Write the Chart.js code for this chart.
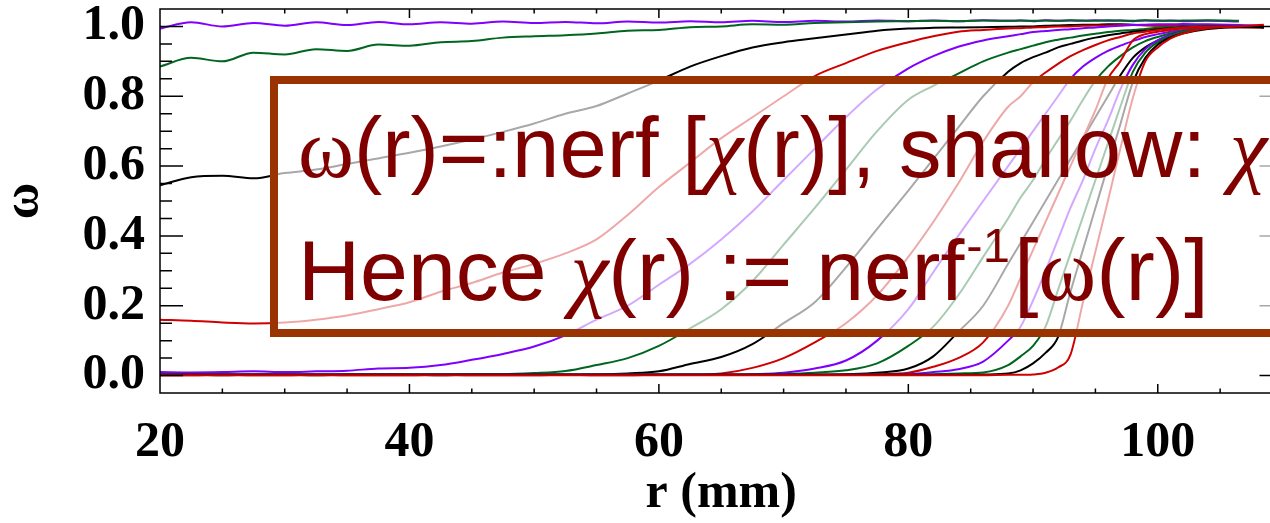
<!DOCTYPE html>
<html>
<head>
<meta charset="utf-8">
<script src="https://cdn.jsdelivr.net/npm/chart.js@4.4.1/dist/chart.umd.min.js"></script>
<style>
  html, body { margin: 0; padding: 0; background: #fff; overflow: hidden; }
  #wrap { width: 1290px; height: 523px; }
</style>
</head>
<body>
<div id="wrap"><canvas id="omegaChart" width="1290" height="523"></canvas></div>
<script>
// radius grid (mm), shared by all curves
const r = [20, 22.5, 25, 27.5, 30, 32.5, 35, 37.5, 40, 42.5, 45, 47.5, 50, 52.5, 55, 57.5, 60, 62.5, 65, 67.5, 70, 72.5, 75, 77.5, 80,
  82, 84, 86, 88, 89, 90, 91, 92, 93, 94, 95, 96, 97, 98, 99, 100, 101, 102, 104, 106.5, 108.5];

// omega profiles, one per depth
const w1 = [0.994, 1.012, 1.000, 1.010, 1.002, 1.012, 1.004, 1.013, 1.006, 1.012, 1.008, 1.014, 1.010, 1.013, 1.009, 1.014, 1.011, 1.015, 1.012, 1.016, 1.013, 1.016, 1.014, 1.017, 1.015,
  1.017, 1.015, 1.018, 1.016, 1.017, 1.015, 1.018, 1.016, 1.017, 1.016, 1.018, 1.016, 1.017, 1.015, 1.017, 1.016, 1.017, 1.015, 1.016, 1.014, null];
const w2 = [0.885, 0.910, 0.900, 0.925, 0.920, 0.935, 0.930, 0.948, 0.945, 0.955, 0.958, 0.968, 0.972, 0.975, 0.980, 0.988, 0.990, 0.998, 1.000, 1.006, 1.005, 1.010, 1.012, 1.014, 1.015,
  1.016, 1.015, 1.017, 1.016, 1.017, 1.016, 1.017, 1.016, 1.018, 1.017, 1.016, 1.018, 1.017, 1.016, 1.018, 1.017, 1.016, 1.017, 1.018, 1.016, null];
const w3 = [0.545, 0.568, 0.572, 0.565, 0.580, 0.590, 0.606, 0.622, 0.638, 0.656, 0.676, 0.698, 0.722, 0.750, 0.772, 0.808, 0.845, 0.885, 0.915, 0.940, 0.955, 0.966, 0.977, 0.988, 0.994,
  0.996, 0.997, 0.998, 0.999, 1.000, 1.000, 1.002, 1.003, 1.004, 1.005, 1.005, 1.006, 1.006, 1.005, 1.004, 1.003, 1.002, 1.001, 1.000, 1.000, 0.998];
const w4 = [0.160, 0.157, 0.152, 0.149, 0.152, 0.160, 0.172, 0.190, 0.210, 0.240, 0.265, 0.295, 0.320, 0.350, 0.390, 0.460, 0.540, 0.610, 0.680, 0.740, 0.800, 0.858, 0.895, 0.930, 0.955,
  0.972, 0.985, 0.990, 0.994, 0.995, 0.997, 0.998, 1.000, 1.000, 1.002, 1.003, 1.003, 1.004, 1.004, 1.003, 1.002, 1.002, 1.000, 1.000, 0.998, 0.996];
const w5 = [0.010, 0.009, 0.010, 0.012, 0.010, 0.012, 0.014, 0.020, 0.022, 0.030, 0.045, 0.062, 0.083, 0.115, 0.160, 0.200, 0.260, 0.320, 0.390, 0.470, 0.560, 0.650, 0.740, 0.820, 0.880,
  0.915, 0.942, 0.960, 0.972, 0.978, 0.984, 0.987, 0.990, 0.992, 0.995, 0.997, 1.000, 1.002, 1.004, 1.005, 1.006, 1.006, 1.007, 1.006, 1.004, 1.002];
const w6 = [0.002, 0.003, 0.003, 0.002, 0.003, 0.002, 0.003, 0.003, 0.003, 0.003, 0.004, 0.004, 0.007, 0.013, 0.030, 0.050, 0.085, 0.135, 0.190, 0.270, 0.375, 0.480, 0.590, 0.700, 0.790,
  0.830, 0.865, 0.900, 0.925, 0.935, 0.945, 0.955, 0.962, 0.968, 0.974, 0.979, 0.984, 0.988, 0.990, 0.993, 0.996, 0.998, 1.000, 1.002, 1.000, 0.998];
const w7 = [0.002, 0.002, 0.001, 0.002, 0.002, 0.001, 0.002, 0.002, 0.002, 0.001, 0.002, 0.002, 0.002, 0.002, 0.003, 0.006, 0.012, 0.033, 0.053, 0.090, 0.150, 0.210, 0.310, 0.420, 0.530,
  0.620, 0.710, 0.800, 0.870, 0.895, 0.912, 0.925, 0.940, 0.950, 0.960, 0.968, 0.975, 0.980, 0.985, 0.988, 0.992, 0.995, 0.997, 1.000, 1.000, 0.998];
const w8 = [0.001, 0.001, 0.002, 0.001, 0.001, 0.002, 0.001, 0.001, 0.001, 0.002, 0.001, 0.001, 0.001, 0.002, 0.001, 0.001, 0.002, 0.002, 0.006, 0.022, 0.050, 0.095, 0.150, 0.230, 0.340,
  0.440, 0.550, 0.670, 0.770, 0.800, 0.840, 0.868, 0.893, 0.915, 0.932, 0.947, 0.960, 0.970, 0.980, 0.985, 0.990, 0.994, 0.997, 1.000, 1.000, 0.998];
const w9 = [0.002, 0.002, 0.002, 0.002, 0.002, 0.002, 0.002, 0.002, 0.002, 0.002, 0.002, 0.002, 0.002, 0.002, 0.002, 0.002, 0.002, 0.002, 0.002, 0.004, 0.008, 0.020, 0.043, 0.100, 0.190,
  0.296, 0.400, 0.500, 0.600, 0.650, 0.700, 0.750, 0.800, 0.850, 0.885, 0.910, 0.930, 0.945, 0.958, 0.970, 0.978, 0.985, 0.990, 0.997, 1.000, 0.998];
const w10 = [0.002, 0.002, 0.002, 0.002, 0.002, 0.002, 0.002, 0.002, 0.002, 0.002, 0.002, 0.002, 0.002, 0.002, 0.002, 0.002, 0.002, 0.002, 0.002, 0.002, 0.004, 0.008, 0.015, 0.035, 0.085,
  0.140, 0.230, 0.340, 0.450, 0.510, 0.560, 0.620, 0.675, 0.730, 0.790, 0.845, 0.885, 0.915, 0.940, 0.958, 0.970, 0.980, 0.987, 0.995, 1.000, 0.998];
const w11 = [0.002, 0.002, 0.002, 0.002, 0.002, 0.002, 0.002, 0.002, 0.002, 0.002, 0.002, 0.002, 0.002, 0.002, 0.002, 0.002, 0.002, 0.002, 0.002, 0.002, 0.002, 0.002, 0.004, 0.008, 0.020,
  0.055, 0.125, 0.200, 0.320, 0.380, 0.440, 0.500, 0.560, 0.620, 0.680, 0.740, 0.800, 0.860, 0.910, 0.940, 0.960, 0.975, 0.985, 0.995, 1.000, 0.998];
const w12 = [0.002, 0.002, 0.002, 0.002, 0.002, 0.002, 0.002, 0.002, 0.002, 0.002, 0.002, 0.002, 0.002, 0.002, 0.002, 0.002, 0.002, 0.002, 0.002, 0.002, 0.002, 0.002, 0.002, 0.004, 0.008,
  0.025, 0.050, 0.095, 0.200, 0.280, 0.360, 0.440, 0.520, 0.600, 0.680, 0.760, 0.850, 0.900, 0.960, 0.978, 0.985, 0.990, 0.994, 0.998, 1.000, 1.002];
const w13 = [0.002, 0.002, 0.002, 0.002, 0.002, 0.002, 0.002, 0.002, 0.002, 0.002, 0.002, 0.002, 0.002, 0.002, 0.002, 0.002, 0.002, 0.002, 0.002, 0.002, 0.002, 0.002, 0.002, 0.002, 0.004,
  0.010, 0.018, 0.040, 0.100, 0.140, 0.215, 0.300, 0.390, 0.480, 0.560, 0.650, 0.730, 0.820, 0.890, 0.935, 0.960, 0.975, 0.985, 0.995, 1.000, 0.998];
const w14 = [0.002, 0.002, 0.002, 0.002, 0.002, 0.002, 0.002, 0.002, 0.002, 0.002, 0.002, 0.002, 0.002, 0.002, 0.002, 0.002, 0.002, 0.002, 0.002, 0.002, 0.002, 0.002, 0.002, 0.002, 0.002,
  0.004, 0.006, 0.009, 0.030, 0.055, 0.085, 0.140, 0.245, 0.350, 0.455, 0.560, 0.665, 0.770, 0.870, 0.925, 0.955, 0.972, 0.984, 0.995, 1.000, 0.998];
const w15 = [0.002, 0.002, 0.002, 0.002, 0.002, 0.002, 0.002, 0.002, 0.002, 0.002, 0.002, 0.002, 0.002, 0.002, 0.002, 0.002, 0.002, 0.002, 0.002, 0.002, 0.002, 0.002, 0.002, 0.002, 0.002,
  0.002, 0.002, 0.003, 0.006, 0.015, 0.035, 0.065, 0.110, 0.240, 0.360, 0.480, 0.600, 0.720, 0.840, 0.910, 0.948, 0.968, 0.980, 0.993, 0.998, 0.998];
const w16 = [0.001, 0.001, 0.001, 0.001, 0.001, 0.001, 0.001, 0.001, 0.001, 0.001, 0.001, 0.001, 0.001, 0.001, 0.001, 0.001, 0.001, 0.001, 0.001, 0.001, 0.001, 0.001, 0.001, 0.001, 0.001,
  0.001, 0.001, 0.001, 0.002, 0.002, 0.003, 0.008, 0.023, 0.060, 0.210, 0.355, 0.500, 0.650, 0.795, 0.900, 0.940, 0.965, 0.980, 0.995, 1.000, 1.005];

const profiles = [w1, w2, w3, w4, w5, w6, w7, w8, w9, w10, w11, w12, w13, w14, w15, w16];
const palette = ['#7f00ff', '#00661f', '#000000', '#d00000'];

const xTicks = [20, 40, 60, 80, 100];
const yTicks = [0, 0.2, 0.4, 0.6, 0.8, 1.0];

const boxLine1 = 'ω(r)=:nerf [χ(r)], shallow: χ(r) ≈ ω(r)';
const boxLine2a = 'Hence χ(r) := nerf';
const boxLine2sup = '-1';
const boxLine2b = '[ω(r)]';

const serif = '"Liberation Serif", "Times New Roman", serif';
const sans = '"Liberation Sans", Arial, sans-serif';

// draw a string, greek letters in a serif face (chi slanted); returns the end x
function drawRun(ctx, text, x, y, size) {
  for (const ch of text) {
    if (ch === 'χ') ctx.font = 'italic ' + size + 'px ' + serif;
    else if (ch === 'ω') ctx.font = size + 'px ' + serif;
    else ctx.font = size + 'px ' + sans;
    ctx.fillText(ch, x, y);
    x += ctx.measureText(ch).width;
  }
  return x;
}

// frame with inward ticks on all four sides, then the translucent text box
const frameAndBox = {
  id: 'frameAndBox',
  afterDatasetsDraw(chart) {
    const { ctx, chartArea: a, scales: { x, y } } = chart;
    ctx.save();
    ctx.strokeStyle = '#000';
    ctx.lineWidth = 1.5;
    ctx.strokeRect(a.left, a.top, a.right - a.left, a.bottom - a.top);
    ctx.beginPath();
    for (let v = 25; v < 110; v += 5) {
      const px = x.getPixelForValue(v);
      const len = v % 20 === 0 ? 9 : 4.5;
      ctx.moveTo(px, a.bottom); ctx.lineTo(px, a.bottom - len);
      ctx.moveTo(px, a.top); ctx.lineTo(px, a.top + len);
    }
    for (let i = 0; i <= 20; i++) {
      const py = y.getPixelForValue(i * 0.05);
      const len = i % 4 === 0 ? 23 : 12;
      ctx.moveTo(a.left, py); ctx.lineTo(a.left + len, py);
      ctx.moveTo(a.right, py); ctx.lineTo(a.right - len, py);
    }
    ctx.stroke();

    // box
    ctx.fillStyle = 'rgba(255,255,255,0.66)';
    ctx.fillRect(274, 80, 1100, 253);
    ctx.strokeStyle = '#993300';
    ctx.lineWidth = 8;
    ctx.strokeRect(274, 80, 1100, 253);

    ctx.fillStyle = '#800000';
    ctx.textBaseline = 'alphabetic';
    drawRun(ctx, boxLine1, 298, 177, 85);
    let tx = drawRun(ctx, boxLine2a, 298, 300, 86);
    ctx.font = '49px ' + sans;
    ctx.fillText(boxLine2sup, tx + 2, 262);
    tx += ctx.measureText(boxLine2sup).width + 6;
    drawRun(ctx, boxLine2b, tx, 300, 88);
    ctx.restore();
  }
};

new Chart(document.getElementById('omegaChart'), {
  type: 'line',
  data: {
    datasets: profiles.map((w, i) => ({
      data: r.map((rv, k) => ({ x: rv, y: w[k] })),
      borderColor: palette[i % 4],
      borderWidth: 2,
      pointRadius: 0,
      cubicInterpolationMode: 'monotone',
      fill: false,
      order: profiles.length - i
    }))
  },
  options: {
    responsive: false,
    animation: false,
    layout: { padding: { top: 9, right: 7.5, left: 0, bottom: 0 } },
    plugins: { legend: { display: false }, tooltip: { enabled: false } },
    scales: {
      x: {
        type: 'linear', min: 20, max: 110,
        afterBuildTicks: s => { s.ticks = xTicks.map(v => ({ value: v })); },
        afterFit: s => { s.height = 130; s.paddingLeft = 0; s.paddingRight = 0; },
        grid: { display: false, drawTicks: false },
        border: { display: false },
        ticks: { color: '#000', padding: 20, maxRotation: 0, autoSkip: false,
          font: { family: serif, size: 50, weight: 'bold' }, callback: v => String(v) },
        title: { display: true, text: 'r (mm)', color: '#000',
          font: { family: serif, size: 50, weight: 'bold', lineHeight: 1 }, padding: { top: 0, bottom: 4 } }
      },
      y: {
        type: 'linear', min: -0.05, max: 1.05,
        afterBuildTicks: s => { s.ticks = yTicks.map(v => ({ value: v })); },
        afterFit: s => { s.width = 160; s.paddingTop = 0; s.paddingBottom = 0; },
        grid: { display: false, drawTicks: false },
        border: { display: false },
        ticks: { color: '#000', padding: 15, autoSkip: false,
          font: { family: serif, size: 50, weight: 'bold' }, callback: v => v.toFixed(1) },
        title: { display: true, text: 'ω', color: '#000',
          font: { family: serif, size: 50, weight: 'bold', lineHeight: 1 }, padding: { top: 0, bottom: 0 } }
      }
    }
  },
  plugins: [frameAndBox]
});
</script>
</body>
</html>
